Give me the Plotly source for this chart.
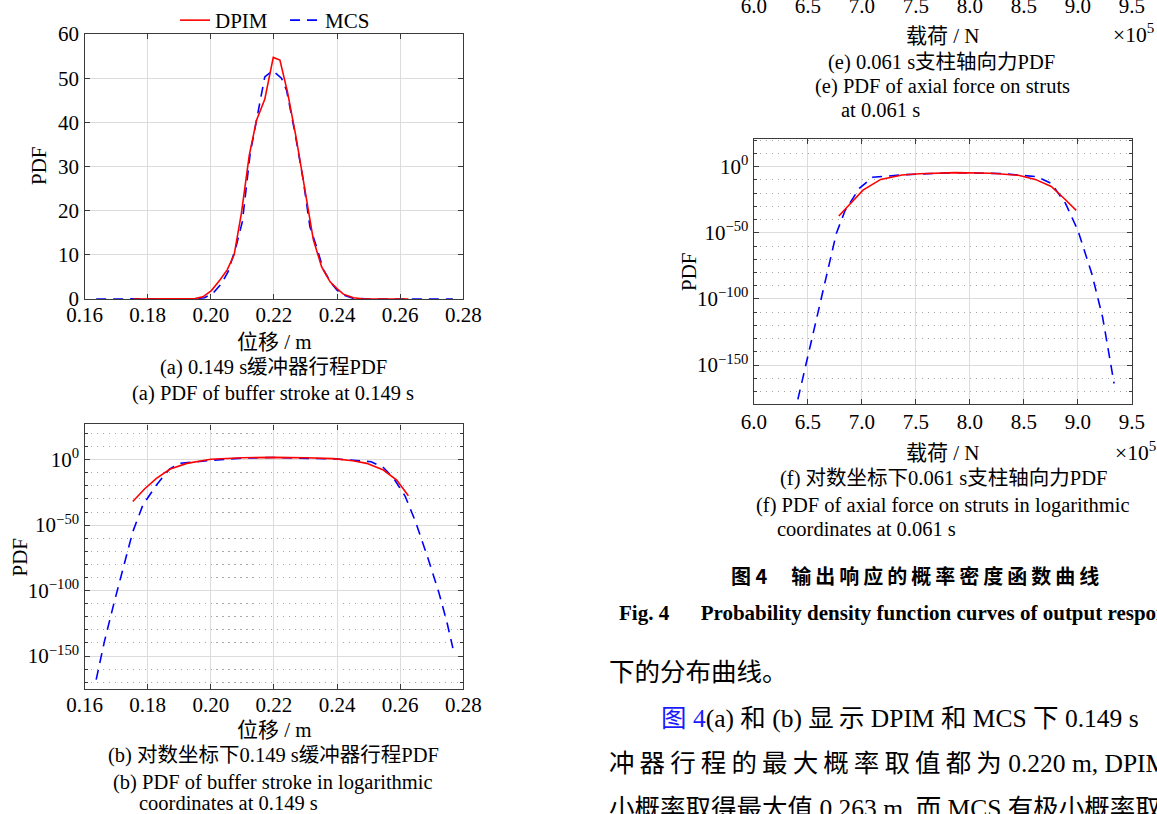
import numpy as np
import plotly.graph_objects as go

W, H = 1157, 814
SERIF = "Liberation Serif, Times New Roman, Noto Sans CJK SC, serif"
CJK = "Noto Sans CJK SC, Liberation Serif, sans-serif"

# ---------------- data ----------------
# (a) linear PDF of buffer stroke at 0.149 s
a_x_dpim = [0.1753, 0.185, 0.190, 0.195, 0.1975, 0.2002, 0.2029, 0.2052, 0.2074, 0.2097, 0.2122,
            0.2145, 0.2171, 0.2198, 0.2219, 0.2243, 0.2270, 0.2298, 0.2325, 0.2351, 0.2378,
            0.2399, 0.2420, 0.2452, 0.2480, 0.2550, 0.2626]
a_pdf_dpim = [0, 0, 0, 0.1, 0.5, 1.9, 4.3, 6.6, 10.0, 19.4, 32.6,
              40.5, 45.2, 54.7, 54.1, 46.9, 36.7, 24.7, 13.4, 7.3, 3.9,
              2.4, 1.1, 0.3, 0.05, 0, 0]
a_x_mcs = [0.1637, 0.175, 0.185, 0.195, 0.198, 0.2007, 0.2034, 0.2055, 0.208, 0.210, 0.2125,
           0.215, 0.2171, 0.2196, 0.2224, 0.2240, 0.2267, 0.2293, 0.2314, 0.2335, 0.2357,
           0.2380, 0.2400, 0.2420, 0.2450, 0.2500, 0.2600, 0.2767]
a_pdf_mcs = [0, 0, 0, 0.05, 0.3, 1.3, 3.5, 6.2, 11.8, 17.5, 33,
             42, 50.3, 51.7, 50.0, 47.3, 37.5, 26.9, 16.4, 11.8, 6.6,
             3.8, 2.0, 0.9, 0.2, 0.01, 0, 0]

# (b) logarithmic PDF of buffer stroke (log10 of PDF)
b_x_dpim = [0.1753, 0.1790, 0.1828, 0.1870, 0.1924, 0.2000, 0.2100, 0.2198, 0.2300, 0.2388,
            0.2450, 0.2494, 0.2547, 0.2589, 0.2626]
b_log10_dpim = [-32, -22.4, -14.2, -7.3, -2.8, 0.3, 1.5, 1.8, 1.5, 0.8,
                -0.8, -2.8, -7.9, -15.5, -27.5]
b_x_mcs = [0.1637, 0.1663, 0.1695, 0.1722, 0.1753, 0.1785, 0.1828, 0.1870, 0.1902, 0.2000,
           0.2100, 0.2200, 0.2300, 0.2400, 0.2508, 0.2547, 0.2579, 0.2616, 0.2648, 0.2685,
           0.2722, 0.2748, 0.2767]
b_log10_mcs = [-168, -139, -108, -83, -55, -34.6, -19.3, -7, -2.8, -0.5,
               1.2, 1.7, 1.3, 0.5, -1.5, -6, -14, -28, -47, -73,
               -101, -124, -144]

# (f) logarithmic PDF of axial force on struts at 0.061 s (x in 1e5 N, log10 of PDF)
f_x_dpim = [6.787, 6.879, 7.011, 7.175, 7.372, 7.537, 7.866, 8.196, 8.45, 8.606, 8.754, 8.886, 8.985]
f_log10_dpim = [-37.3, -29, -17.7, -9.6, -6.3, -5.3, -4.5, -5.0, -6.5, -9.6, -15, -25, -33]
f_x_mcs = [6.408, 6.484, 6.583, 6.681, 6.764, 6.846, 6.977, 7.076, 7.10, 7.4, 7.866, 8.3,
           8.623, 8.754, 8.886, 9.0, 9.13, 9.23, 9.296, 9.336]
f_log10_mcs = [-176, -149, -113.6, -78, -50.5, -33, -16.4, -9.6, -8, -6.0, -4.5, -5.2,
               -7.6, -12.6, -27.7, -48, -81, -114, -144, -164]

stroke_ticks = [0.16, 0.18, 0.20, 0.22, 0.24, 0.26, 0.28]
pdf_ticks = [0, 10, 20, 30, 40, 50, 60]
force_ticks = [6.0, 6.5, 7.0, 7.5, 8.0, 8.5, 9.0, 9.5]
log_major_exp = [0, -50, -100, -150]
log_minor_exp = [k for k in range(20, -180, -10) if k % 50 != 0]

# ---------------- helpers ----------------
def px(x):
    return x / W


def py(y):
    return 1 - y / H


RED = "#ff0000"
BLUE = "#0000ff"
DASH = "10px,7px"
TICK = 21

fig = go.Figure()

# (a)
fig.add_trace(go.Scatter(x=a_x_mcs, y=a_pdf_mcs, mode="lines", name="MCS",
                         line=dict(color=BLUE, width=1.6, dash=DASH), xaxis="x", yaxis="y"))
fig.add_trace(go.Scatter(x=a_x_dpim, y=a_pdf_dpim, mode="lines", name="DPIM",
                         line=dict(color=RED, width=1.6), xaxis="x", yaxis="y"))
# (b)
fig.add_trace(go.Scatter(x=b_x_mcs, y=np.power(10.0, b_log10_mcs), mode="lines", showlegend=False,
                         line=dict(color=BLUE, width=1.6, dash=DASH), xaxis="x2", yaxis="y2"))
fig.add_trace(go.Scatter(x=b_x_dpim, y=np.power(10.0, b_log10_dpim), mode="lines", showlegend=False,
                         line=dict(color=RED, width=1.6), xaxis="x2", yaxis="y2"))
# (f)
fig.add_trace(go.Scatter(x=f_x_mcs, y=np.power(10.0, f_log10_mcs), mode="lines", showlegend=False,
                         line=dict(color=BLUE, width=1.6, dash=DASH), xaxis="x3", yaxis="y3"))
fig.add_trace(go.Scatter(x=f_x_dpim, y=np.power(10.0, f_log10_dpim), mode="lines", showlegend=False,
                         line=dict(color=RED, width=1.6), xaxis="x3", yaxis="y3"))
# (e) only its bottom axis is visible on this page
fig.add_trace(go.Scatter(x=[], y=[], mode="lines", showlegend=False, xaxis="x4", yaxis="y4"))

frame = dict(showline=True, linecolor="#3a3a3a", linewidth=1.4, mirror="allticks",
             ticks="inside", ticklen=5, tickcolor="#3a3a3a", tickwidth=1,
             showgrid=True, gridcolor="#dcdcdc", gridwidth=1, zeroline=False, automargin=False,
             tickfont=dict(family=SERIF, size=TICK, color="black"))

minor_log = dict(tickvals=[10.0 ** k for k in log_minor_exp], ticks="inside", ticklen=3,
                 tickcolor="#3a3a3a", showgrid=True, gridcolor="#a8a8a8", griddash="1.5px,4.5px",
                 gridwidth=1)

log_text = ["10<sup>%s</sup>" % (str(e).replace("-", "\u2212")) for e in log_major_exp]
log_vals = [10.0 ** e for e in log_major_exp]

x_left = [px(84.5), px(463.3)]
x_right = [px(753.8), px(1131.8)]

fig.update_layout(
    width=W, height=H, autosize=False,
    margin=dict(l=0, r=0, t=0, b=0, pad=0, autoexpand=False),
    paper_bgcolor="white", plot_bgcolor="white",
    font=dict(family=SERIF, size=TICK, color="black"),
    showlegend=True,
    legend=dict(orientation="h", x=px(175), y=py(0), xanchor="left", yanchor="top",
                bgcolor="rgba(0,0,0,0)", font=dict(family=SERIF, size=21),
                traceorder="reversed", itemwidth=30, tracegroupgap=0, entrywidth=65),
    xaxis=dict(frame, domain=x_left, anchor="y", range=[0.16, 0.28], tickvals=stroke_ticks,
               tickformat=".2f", ticklabelstandoff=-3),
    yaxis=dict(frame, domain=[py(299), py(34)], anchor="x", range=[0, 60], tickvals=pdf_ticks),
    xaxis2=dict(frame, domain=x_left, anchor="y2", range=[0.16, 0.28], tickvals=stroke_ticks,
                tickformat=".2f", ticklabelstandoff=-3),
    yaxis2=dict(frame, domain=[py(689), py(424.3)], anchor="x2", type="log",
                range=[-175.2, 27.05], tickvals=log_vals, ticktext=log_text, minor=minor_log),
    xaxis3=dict(frame, domain=x_right, anchor="y3", range=[6.0, 9.5], tickvals=force_ticks,
                tickformat=".1f", ticklabelstandoff=-1),
    yaxis3=dict(frame, domain=[py(404), py(139)], anchor="x3", type="log",
                range=[-179.5, 20.95], tickvals=log_vals, ticktext=log_text, minor=minor_log),
    xaxis4=dict(domain=x_right, anchor="y4", range=[6.0, 9.5], tickvals=force_ticks,
                tickformat=".1f", showline=False, showgrid=False, zeroline=False, ticks="",
                automargin=False,
                tickfont=dict(family=SERIF, size=TICK, color="black"), ticklabelstandoff=-9),
    yaxis4=dict(domain=[0.9995, 1.0], anchor="x4", visible=False, automargin=False),
)

ann = []


def text(x, y, s, size=21, xanchor="center", family=SERIF, angle=0, color="black"):
    ann.append(dict(x=px(x), y=py(y), xref="paper", yref="paper", text=s, showarrow=False,
                    xanchor=xanchor, yanchor="middle", textangle=angle,
                    font=dict(family=family, size=size, color=color)))


# axis titles
text(274, 342, "位移 / m")
text(39, 166, "PDF", angle=-90)
text(274, 730, "位移 / m")
text(19.5, 557, "PDF", angle=-90)
text(943, 36, "载荷 / N")
text(1111, 34, "×10<sup>5</sup>", size=21.5, xanchor="left")
text(943, 453, "载荷 / N")
text(1113, 451, "×10<sup>5</sup>", size=21.5, xanchor="left")
text(689, 272, "PDF", angle=-90)

# sub-captions
CAP = 20.5
text(273, 368, "(a) 0.149 s缓冲器行程PDF", size=CAP)
text(273, 393, "(a) PDF of buffer stroke at 0.149 s", size=CAP)
text(273, 755, "(b) 对数坐标下0.149 s缓冲器行程PDF", size=CAP)
text(273, 782, "(b) PDF of buffer stroke in logarithmic", size=CAP)
text(137, 803, "coordinates at 0.149 s", size=CAP, xanchor="left")
text(941, 62, "(e) 0.061 s支柱轴向力PDF", size=CAP)
text(942, 87, "(e) PDF of axial force on struts", size=CAP)
text(838.7, 110, "at 0.061 s", size=CAP, xanchor="left")
text(943, 478, "(f) 对数坐标下0.061 s支柱轴向力PDF", size=CAP)
text(942.4, 505, "(f) PDF of axial force on struts in logarithmic", size=CAP)
text(774.8, 529, "coordinates at 0.061 s", size=CAP, xanchor="left")

# figure caption
text(729, 575, "<b>图 4\u2003\u2009输\u2009出\u2009响\u2009应\u2009的\u2009概\u2009率\u2009密\u2009度\u2009函\u2009数\u2009曲\u2009线</b>",
     size=20, xanchor="left", family=CJK)
text(617, 613, "<b>Fig. 4\u2003\u2002Probability density function curves of output responses</b>",
     size=21, xanchor="left")

# body text
BODY = 25.5
text(607, 672, "下的分布曲线。", size=BODY, xanchor="left")
text(659, 718, "<span style='color:#1a1aff'>图 4</span>(a) 和 (b) 显\u2009示 DPIM 和 MCS 下 0.149 s",
     size=BODY, xanchor="left")
text(607, 763, "冲\u2009器\u2009行\u2009程\u2009的\u2009最\u2009大\u2009概\u2009率\u2009取\u2009值\u2009都\u2009为 0.220 m, DPIM",
     size=BODY, xanchor="left")
text(607, 808, "小概率取得最大值 0.263 m, 而 MCS 有极小概率取",
     size=BODY, xanchor="left")

fig.update_layout(annotations=ann)

fig.write_html("out.html")
